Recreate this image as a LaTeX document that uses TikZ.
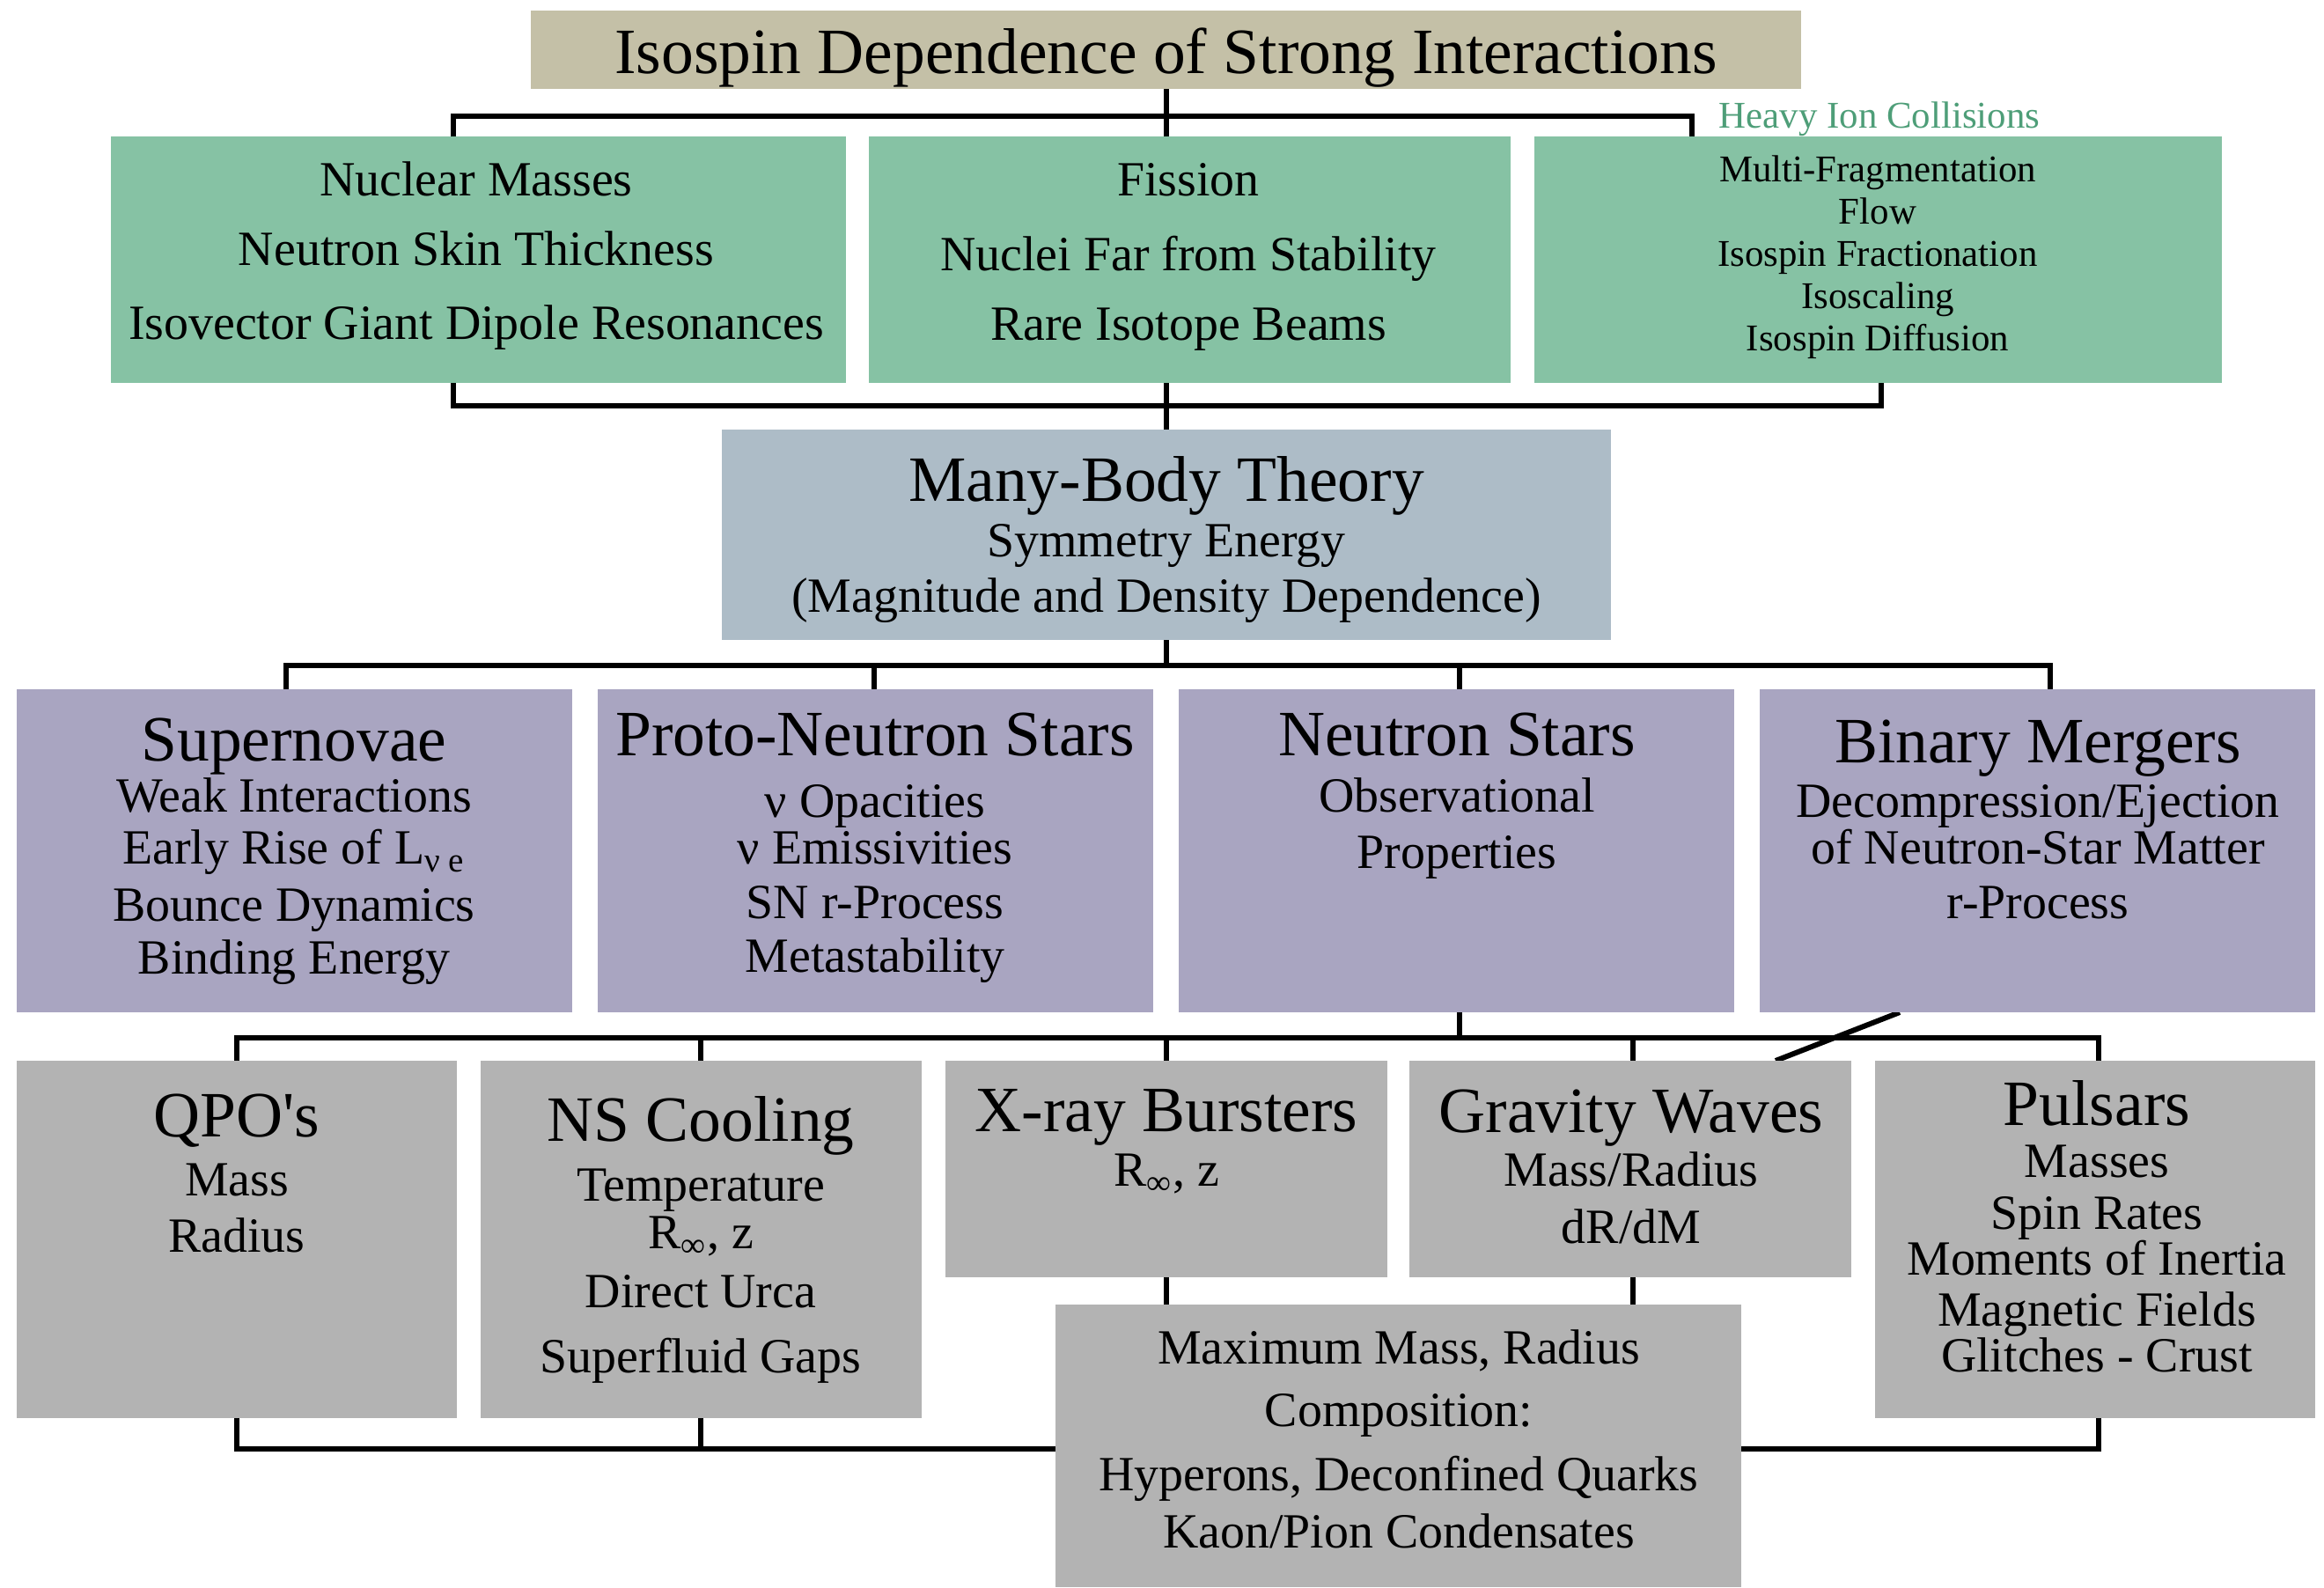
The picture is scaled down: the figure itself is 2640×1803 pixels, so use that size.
\documentclass[tikz,border=0pt]{standalone}
\usepackage{fontspec}
\setmainfont{Liberation Serif}
\usetikzlibrary{backgrounds}
\definecolor{tanc}{HTML}{C4C0A7}
\definecolor{greenc}{HTML}{86C2A4}
\definecolor{bluec}{HTML}{ADBCC7}
\definecolor{purplec}{HTML}{A9A5C1}
\definecolor{grayc}{HTML}{B3B3B3}
\definecolor{hictext}{HTML}{4E9E78}
\begin{document}
\begin{tikzpicture}[x=0.1mm,y=-0.1mm,
  box/.style={draw=none,inner sep=0pt,outer sep=0pt},
  hd/.style={font=\fontsize{20.9pt}{25pt}\selectfont,inner sep=0pt,text height=13.8pt,text depth=0pt},
  itm/.style={font=\fontsize{15.9pt}{19pt}\selectfont,inner sep=0pt,text height=10.5pt,text depth=0pt},
  sml/.style={font=\fontsize{12.2pt}{14pt}\selectfont,inner sep=0pt,text height=8.05pt,text depth=0pt},
  conn/.style={draw=black,line width=0.6mm,line join=miter}
]
\useasboundingbox (0,0) rectangle (2640,1803);

% ---------- boxes ----------
\node[box,fill=tanc,minimum width=144.3mm,minimum height=8.9mm] (title) at (1324.5,56.5) {};
\node[hd] (titlet) at (1324.5,59) {Isospin Dependence of Strong Interactions};

\node[box,fill=greenc,minimum width=83.5mm,minimum height=28mm] (g1) at (543.5,295) {};
\node[box,fill=greenc,minimum width=72.9mm,minimum height=28mm] (g2) at (1351.5,295) {};
\node[box,fill=greenc,minimum width=78.1mm,minimum height=28mm] (g3) at (2133.5,295) {};

\node[itm] (g1a) at (541,204) {Nuclear Masses};
\node[itm] (g1b) at (541,283) {Neutron Skin Thickness};
\node[itm] (g1c) at (541,367) {Isovector Giant Dipole Resonances};

\node[itm] (g2a) at (1350,204) {Fission};
\node[itm] (g2b) at (1350,289) {Nuclei Far from Stability};
\node[itm] (g2c) at (1350,368) {Rare Isotope Beams};

\node[sml,text=hictext] (hic) at (2135,131) {Heavy Ion Collisions};
\node[sml] (g3a) at (2133,192) {Multi-Fragmentation};
\node[sml] (g3b) at (2133,240) {Flow};
\node[sml] (g3c) at (2133,288) {Isospin Fractionation};
\node[sml] (g3d) at (2133,336) {Isoscaling};
\node[sml] (g3e) at (2133,384) {Isospin Diffusion};

\node[box,fill=bluec,minimum width=101mm,minimum height=23.9mm] (mb) at (1325,607.5) {};
\node[hd] (mba) at (1325,545) {Many-Body Theory};
\node[itm] (mbb) at (1325,614) {Symmetry Energy};
\node[itm] (mbc) at (1325,677) {(Magnitude and Density Dependence)};

\node[box,fill=purplec,minimum width=63.1mm,minimum height=36.7mm] (p1) at (334.5,966.5) {};
\node[box,fill=purplec,minimum width=63.1mm,minimum height=36.7mm] (p2) at (994.5,966.5) {};
\node[box,fill=purplec,minimum width=63.1mm,minimum height=36.7mm] (p3) at (1654.5,966.5) {};
\node[box,fill=purplec,minimum width=63.1mm,minimum height=36.7mm] (p4) at (2314.5,966.5) {};

\node[hd] (p1a) at (334,840) {Supernovae};
\node[itm] (p1b) at (334,904) {Weak Interactions};
\node[itm] (p1c) at (334,963) {Early Rise of L\textsubscript{ν e}};
\node[itm] (p1d) at (334,1028) {Bounce Dynamics};
\node[itm] (p1e) at (334,1088) {Binding Energy};

\node[hd] (p2a) at (994,834) {Proto-Neutron Stars};
\node[itm] (p2b) at (994,910) {ν Opacities};
\node[itm] (p2c) at (994,963) {ν Emissivities};
\node[itm] (p2d) at (994,1025) {SN r-Process};
\node[itm] (p2e) at (994,1086) {Metastability};

\node[hd] (p3a) at (1655,834) {Neutron Stars};
\node[itm] (p3b) at (1655,904) {Observational};
\node[itm] (p3c) at (1655,968) {Properties};

\node[hd] (p4a) at (2315,842) {Binary Mergers};
\node[itm] (p4b) at (2315,910) {Decompression/Ejection};
\node[itm] (p4c) at (2315,963) {of Neutron-Star Matter};
\node[itm] (p4d) at (2315,1025) {r-Process};

\node[box,fill=grayc,minimum width=50mm,minimum height=40.6mm] (q1) at (269,1408) {};
\node[box,fill=grayc,minimum width=50.1mm,minimum height=40.6mm] (q2) at (796.5,1408) {};
\node[box,fill=grayc,minimum width=50.2mm,minimum height=24.6mm] (q3) at (1325,1328) {};
\node[box,fill=grayc,minimum width=50.2mm,minimum height=24.6mm] (q4) at (1852,1328) {};
\node[box,fill=grayc,minimum width=50mm,minimum height=40.6mm] (q5) at (2380,1408) {};
\node[box,fill=grayc,minimum width=77.9mm,minimum height=32.1mm] (mm) at (1588.5,1642.5) {};

\node[hd] (q1a) at (269,1267) {QPO\textquotesingle s};
\node[itm] (q1b) at (269,1340) {Mass};
\node[itm] (q1c) at (269,1404) {Radius};

\node[hd] (q2a) at (796,1272) {NS Cooling};
\node[itm] (q2b) at (796,1346) {Temperature};
\node[itm] (q2c) at (796,1400) {R\textsubscript{∞}, z};
\node[itm] (q2d) at (796,1467) {Direct Urca};
\node[itm] (q2e) at (796,1541) {Superfluid Gaps};

\node[hd] (q3a) at (1325,1261) {X-ray Bursters};
\node[itm] (q3b) at (1325,1329) {R\textsubscript{∞}, z};

\node[hd] (q4a) at (1853,1262) {Gravity Waves};
\node[itm] (q4b) at (1853,1329) {Mass/Radius};
\node[itm] (q4c) at (1853,1394) {dR/dM};

\node[hd] (q5a) at (2382,1254) {Pulsars};
\node[itm] (q5b) at (2382,1319) {Masses};
\node[itm] (q5c) at (2382,1378) {Spin Rates};
\node[itm] (q5d) at (2382,1430) {Moments of Inertia};
\node[itm] (q5e) at (2382,1488) {Magnetic Fields};
\node[itm] (q5f) at (2382,1540) {Glitches - Crust};

\node[itm] (mma) at (1589,1531) {Maximum Mass, Radius};
\node[itm] (mmb) at (1589,1602) {Composition:};
\node[itm] (mmc) at (1589,1675) {Hyperons, Deconfined Quarks};
\node[itm] (mmd) at (1589,1740) {Kaon/Pion Condensates};

% ---------- connectors ----------
\coordinate (a1) at (515,132);
\coordinate (a3) at (1922,132);
\coordinate (b1) at (515,461);
\coordinate (b3) at (2137,461);
\coordinate (c1) at (325,756);
\coordinate (c2) at (993,756);
\coordinate (c3) at (1658,756);
\coordinate (c4) at (2329,756);
\coordinate (e0) at (1658,1179);
\coordinate (e1) at (269,1179);
\coordinate (e2) at (796,1179);
\coordinate (e3) at (1325,1179);
\coordinate (e4) at (1855,1179);
\coordinate (e5) at (2384,1179);
\coordinate (f1) at (269,1646);
\coordinate (f5) at (2384,1646);
\coordinate (k1) at (2158,1150);
\coordinate (k2) at (2017,1205);

\begin{pgfonlayer}{background}
\draw[conn] (title.south) -- (title.south |- g2.north);
\draw[conn] (g1.north -| a1) -- (a1) -- (a3) -- (g3.north -| a3);
\draw[conn] (g1.south -| b1) -- (b1) -- (b3) -- (g3.south -| b3);
\draw[conn] (g2.south -| mb.north) -- (mb.north);
\draw[conn] (mb.south) -- (mb.south |- c1);
\draw[conn] (p1.north -| c1) -- (c1) -- (c4) -- (p4.north -| c4);
\draw[conn] (c2) -- (p2.north -| c2);
\draw[conn] (c3) -- (p3.north -| c3);
\draw[conn] (p3.south -| e0) -- (e0);
\draw[conn] (q1.north -| e1) -- (e1) -- (e5) -- (q5.north -| e5);
\draw[conn] (e2) -- (q2.north -| e2);
\draw[conn] (e3) -- (q3.north -| e3);
\draw[conn] (e4) -- (q4.north -| e4);
\draw[conn] (q3.south -| e3) -- (mm.north -| e3);
\draw[conn] (q4.south -| e4) -- (mm.north -| e4);
\draw[conn] (q1.south -| f1) -- (f1) -- (f5) -- (q5.south -| f5);
\draw[conn] (q2.south -| e2) -- (e2 |- f1);
\draw[conn] (p4.south -| k1) -- (q4.north -| k2);
\end{pgfonlayer}
\end{tikzpicture}
\end{document}
